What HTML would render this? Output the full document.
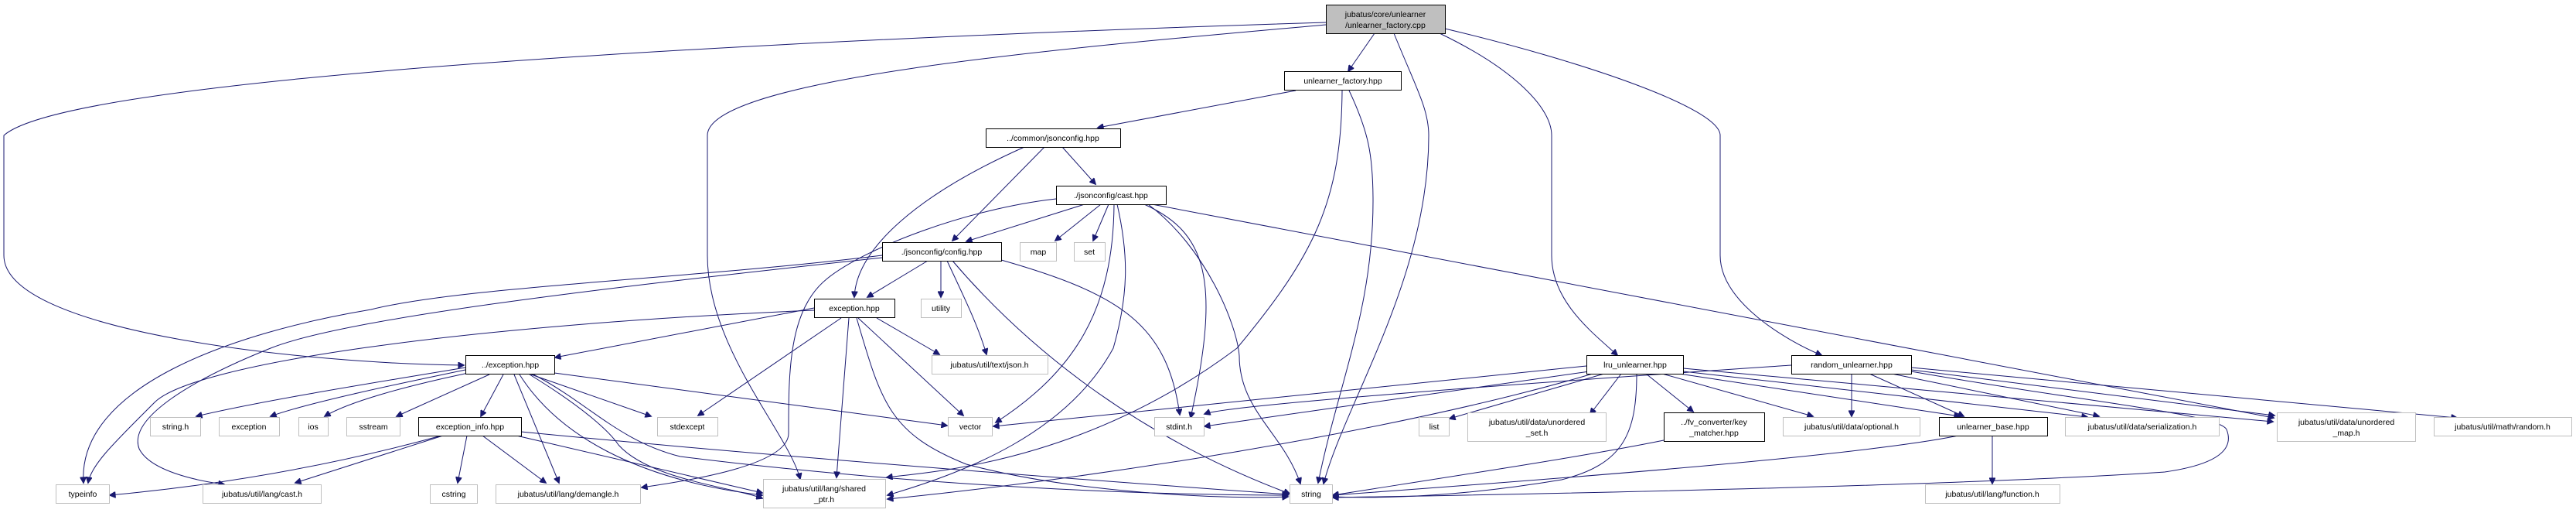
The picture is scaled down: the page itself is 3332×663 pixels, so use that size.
<!DOCTYPE html>
<html><head><meta charset="utf-8"><style>
html,body{margin:0;padding:0;background:#fff;}
svg{display:block;}
text{font-family:"Liberation Sans",Arial,sans-serif;font-size:10.5px;fill:#000;text-anchor:middle;}
.e{fill:none;stroke:#191970;stroke-width:1;}
.b{fill:#fff;stroke:#000;stroke-width:1;}
.g{fill:#fff;stroke:#bfbfbf;stroke-width:1;}
</style></head><body>
<svg width="3332" height="663" viewBox="0 0 3332 663" xmlns="http://www.w3.org/2000/svg">
<defs><marker id="a" viewBox="0 0 10 10" refX="9" refY="5" markerWidth="10" markerHeight="8" markerUnits="userSpaceOnUse" orient="auto"><path d="M0,0L10,5L0,10z" fill="#191970" stroke="#191970"/></marker></defs>
<g class="e" marker-end="url(#a)">
<path d="M1715,29 C1200,45 100,90 5,175 L5,330 C5,430 400,470 600,472"/>
<path d="M1715,32 C1400,60 915,100 915,175 L915,330 C915,450 1020,560 1035,619"/>
<path d="M1778,43 L1744,92"/>
<path d="M1803,43 C1830,110 1848,140 1848,175 C1848,360 1740,520 1712,625"/>
<path d="M1862,43 C1960,90 2007,140 2007,175 L2007,330 C2007,390 2060,430 2092,459"/>
<path d="M1869,37 C2050,80 2225,140 2225,175 L2225,330 C2225,390 2310,440 2356,459"/>
<path d="M1676,117 L1420,165"/>
<path d="M1736,117 C1735,260 1700,330 1600,450 C1400,600 1200,610 1147,617"/>
<path d="M1745,117 C1770,170 1776,200 1776,260 C1776,400 1730,500 1705,624"/>
<path d="M1325,190 C1190,250 1108,320 1105,384"/>
<path d="M1351,190 L1232,311"/>
<path d="M1374,190 L1417,238"/>
<path d="M1403,264 L1250,312"/>
<path d="M1424,264 L1365,311"/>
<path d="M1434,264 L1414,311"/>
<path d="M1366,257 C1250,270 1120,320 1070,360 C1020,400 1020,480 1020,560 C1020,600 900,620 830,630"/>
<path d="M1441,264 C1440,400 1390,480 1288,546"/>
<path d="M1445,264 C1460,330 1460,380 1440,450 C1380,560 1250,610 1148,640"/>
<path d="M1480,264 C1560,300 1580,360 1540,540"/>
<path d="M1485,264 C1560,320 1600,420 1603,460 C1603,530 1660,560 1682,625"/>
<path d="M1490,264 L2941,540"/>
<path d="M1200,337 L1122,384"/>
<path d="M1217,337 L1217,384"/>
<path d="M1225,337 C1245,380 1265,420 1276,458"/>
<path d="M1232,337 C1320,440 1460,560 1668,638"/>
<path d="M1295,336 C1450,380 1510,420 1526,536"/>
<path d="M1141,330 C900,360 600,370 480,400 C300,430 100,500 108,624"/>
<path d="M1141,333 C800,370 450,410 350,450 C250,490 165,540 180,580 C195,610 260,622 290,626"/>
<path d="M1053,398 L718,462"/>
<path d="M1053,401 C600,420 250,470 200,520 C150,570 118,600 114,624"/>
<path d="M1088,411 L903,537"/>
<path d="M1110,411 L1246,537"/>
<path d="M1108,411 C1140,520 1150,560 1250,600 C1400,640 1600,645 1666,642"/>
<path d="M1098,411 L1082,617"/>
<path d="M1134,411 L1215,458"/>
<path d="M602,475 C450,500 330,520 254,538"/>
<path d="M602,478 C520,495 400,520 350,538"/>
<path d="M606,482 C520,500 450,520 420,538"/>
<path d="M633,484 L513,538"/>
<path d="M651,484 L622,538"/>
<path d="M665,484 L723,624"/>
<path d="M672,484 C720,560 820,620 986,640"/>
<path d="M685,484 C760,530 790,560 800,575 C840,620 950,630 986,644"/>
<path d="M687,484 L842,538"/>
<path d="M717,482 L1225,550"/>
<path d="M690,484 C760,520 800,570 880,590 C1200,630 1500,640 1666,640"/>
<path d="M571,563 C400,610 250,630 142,640"/>
<path d="M573,563 L382,624"/>
<path d="M604,563 L592,624"/>
<path d="M624,563 L706,624"/>
<path d="M668,563 L986,637"/>
<path d="M674,558 C1000,590 1400,620 1666,639"/>
<path d="M2052,473 L1285,551"/>
<path d="M2056,480 L1558,551"/>
<path d="M2075,483 L1875,541"/>
<path d="M2097,483 L2057,535"/>
<path d="M2129,483 L2190,532"/>
<path d="M2117,483 C2117,560 2100,600 2020,620 C1900,640 1800,645 1724,642"/>
<path d="M2060,483 C1800,560 1400,620 1148,645"/>
<path d="M2150,483 L2345,538"/>
<path d="M2172,483 L2535,538"/>
<path d="M2177,480 L2700,539"/>
<path d="M2177,476 L2940,545"/>
<path d="M2317,472 C2200,480 1600,520 1558,535"/>
<path d="M2395,483 L2395,538"/>
<path d="M2418,483 L2540,538"/>
<path d="M2447,483 L2715,538"/>
<path d="M2472,478 L2942,537"/>
<path d="M2472,475 L3178,540"/>
<path d="M2472,480 C2700,520 2870,535 2880,555 C2890,580 2870,600 2800,610 C2500,630 1900,640 1724,643"/>
<path d="M2152,569 C2050,590 1850,620 1724,640"/>
<path d="M2533,563 C2400,590 2000,620 1724,640"/>
<path d="M2577,563 L2577,625"/>
</g>
<rect x="1715.5" y="6.5" width="154" height="37" fill="#bfbfbf" stroke="#000"/>
<text x="1792" y="22">jubatus/core/unlearner</text><text x="1792" y="36">/unlearner_factory.cpp</text>
<rect class="b" x="1661.5" y="92.5" width="151" height="24"/><text x="1737" y="108">unlearner_factory.hpp</text>
<rect class="b" x="1275.5" y="166.5" width="174" height="24"/><text x="1362" y="182">../common/jsonconfig.hpp</text>
<rect class="b" x="1366.5" y="240.5" width="142" height="24"/><text x="1437" y="256">./jsonconfig/cast.hpp</text>
<rect class="b" x="1141.5" y="313.5" width="154" height="24"/><text x="1218" y="329">./jsonconfig/config.hpp</text>
<rect class="g" x="1319.5" y="313.5" width="47" height="24"/><text x="1343" y="329">map</text>
<rect class="g" x="1389.5" y="313.5" width="40" height="24"/><text x="1409" y="329">set</text>
<rect class="b" x="1053.5" y="386.5" width="104" height="24"/><text x="1105" y="402">exception.hpp</text>
<rect class="g" x="1191.5" y="386.5" width="52" height="24"/><text x="1217" y="402">utility</text>
<rect class="g" x="1205.5" y="459.5" width="150" height="24"/><text x="1280" y="475">jubatus/util/text/json.h</text>
<rect class="b" x="602.5" y="459.5" width="115" height="24"/><text x="660" y="475">../exception.hpp</text>
<rect class="b" x="2052.5" y="459.5" width="125" height="24"/><text x="2115" y="475">lru_unlearner.hpp</text>
<rect class="b" x="2317.5" y="459.5" width="155" height="24"/><text x="2395" y="475">random_unlearner.hpp</text>
<rect class="g" x="194.5" y="539.5" width="65" height="24"/><text x="227" y="555">string.h</text>
<rect class="g" x="283.5" y="539.5" width="78" height="24"/><text x="322" y="555">exception</text>
<rect class="g" x="386.5" y="539.5" width="38" height="24"/><text x="405" y="555">ios</text>
<rect class="g" x="448.5" y="539.5" width="69" height="24"/><text x="483" y="555">sstream</text>
<rect class="b" x="541.5" y="539.5" width="133" height="24"/><text x="608" y="555">exception_info.hpp</text>
<rect class="g" x="850.5" y="539.5" width="78" height="24"/><text x="889" y="555">stdexcept</text>
<rect class="g" x="1226.5" y="539.5" width="57" height="24"/><text x="1255" y="555">vector</text>
<rect class="g" x="1493.5" y="539.5" width="64" height="24"/><text x="1525" y="555">stdint.h</text>
<rect class="g" x="1835.5" y="539.5" width="39" height="24"/><text x="1855" y="555">list</text>
<rect class="g" x="1898.5" y="533.5" width="179" height="37"/><text x="1988" y="549">jubatus/util/data/unordered</text><text x="1988" y="563">_set.h</text>
<rect class="b" x="2152.5" y="533.5" width="130" height="37"/><text x="2217" y="549">../fv_converter/key</text><text x="2217" y="563">_matcher.hpp</text>
<rect class="g" x="2306.5" y="539.5" width="177" height="24"/><text x="2395" y="555">jubatus/util/data/optional.h</text>
<rect class="b" x="2508.5" y="539.5" width="140" height="24"/><text x="2578" y="555">unlearner_base.hpp</text>
<rect class="g" x="2671.5" y="539.5" width="199" height="24"/><text x="2771" y="555">jubatus/util/data/serialization.h</text>
<rect class="g" x="2945.5" y="533.5" width="179" height="37"/><text x="3035" y="549">jubatus/util/data/unordered</text><text x="3035" y="563">_map.h</text>
<rect class="g" x="3148.5" y="539.5" width="178" height="24"/><text x="3237" y="555">jubatus/util/math/random.h</text>
<rect class="g" x="72.5" y="626.5" width="69" height="24"/><text x="107" y="642">typeinfo</text>
<rect class="g" x="262.5" y="626.5" width="153" height="24"/><text x="339" y="642">jubatus/util/lang/cast.h</text>
<rect class="g" x="556.5" y="626.5" width="61" height="24"/><text x="587" y="642">cstring</text>
<rect class="g" x="641.5" y="626.5" width="187" height="24"/><text x="735" y="642">jubatus/util/lang/demangle.h</text>
<rect class="g" x="987.5" y="619.5" width="158" height="37"/><text x="1066" y="635">jubatus/util/lang/shared</text><text x="1066" y="649">_ptr.h</text>
<rect class="g" x="1668.5" y="626.5" width="55" height="24"/><text x="1696" y="642">string</text>
<rect class="g" x="2490.5" y="626.5" width="174" height="24"/><text x="2577" y="642">jubatus/util/lang/function.h</text>
</svg>
</body></html>
